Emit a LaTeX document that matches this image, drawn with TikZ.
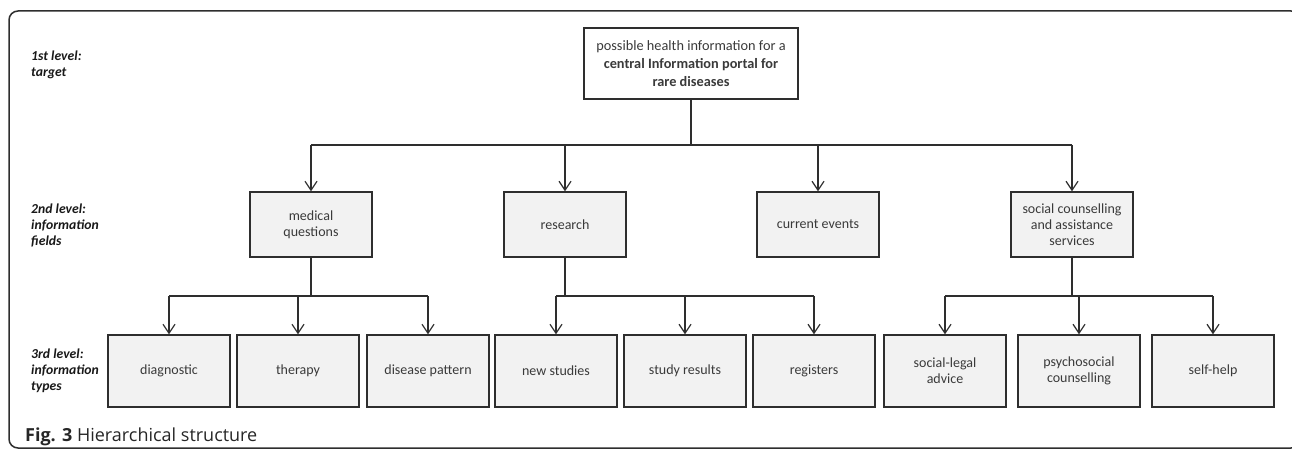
\documentclass[tikz,border=0pt]{standalone}
\usepackage{fontspec}
\setmainfont{Carlito}
\newfontfamily\capfont{Open Sans}
\usetikzlibrary{arrows.meta}
\definecolor{boxfill}{HTML}{F2F2F2}
\definecolor{boxline}{HTML}{2E2E2E}
\definecolor{txt}{HTML}{3A3A3A}
\tikzset{
  boxbase/.style={draw=boxline, line width=1.4pt, text=txt, align=center,
    font=\fontsize{14}{16}\selectfont, inner sep=2pt},
  topbox/.style={boxbase, fill=white, minimum width=214pt, minimum height=71pt,
    font=\fontsize{14.3}{18.3}\selectfont},
  fieldbox/.style={boxbase, fill=boxfill, minimum width=122pt, minimum height=65pt},
  typebox/.style={boxbase, fill=boxfill, minimum width=122pt, minimum height=72pt},
  levellabel/.style={anchor=north west, inner sep=0pt, align=left,
    font=\fontsize{13.7}{16}\selectfont\bfseries\itshape, text=black!90},
  conn/.style={draw=boxline, line width=1.5pt},
  arr/.style={conn, -{Straight Barb[length=9pt,width=12pt,line width=1.2pt]}},
}
\begin{document}
\begin{tikzpicture}[x=1pt,y=-1pt]
\useasboundingbox (0,0) rectangle (1292,449);
\begin{scope}
\clip (0,0) rectangle (1292,449);
\draw[line width=1.5pt, draw=boxline, rounded corners=9pt] (9,11) rectangle (1300,448);
\end{scope}

% level labels
\node[levellabel] (l1) at (31,51) {1st level:\\target};
\node[levellabel] (l2) at (31,204) {2nd level:\\information\\fields};
\node[levellabel] (l3) at (31,349) {3rd level:\\information\\types};

% top
\node[topbox] (top) at (691,63.5) {possible health information for a\\\textbf{central Information portal for}\\\textbf{rare diseases}};

% level 2
\node[fieldbox] (med) at (311,224.5) {medical\\questions};
\node[fieldbox] (res) at (565,224.5) {research};
\node[fieldbox] (cur) at (818,224.5) {current events};
\node[fieldbox] (soc) at (1072,224.5) {social counselling\\and assistance\\services};

% level 3
\node[typebox] (diag) at (169,371) {diagnostic};
\node[typebox] (ther) at (298,371) {therapy};
\node[typebox] (dis)  at (428,371) {disease pattern};
\node[typebox] (new)  at (556,371) {new studies};
\node[typebox] (stud) at (685,371) {study results};
\node[typebox] (reg)  at (814,371) {registers};
\node[typebox] (sla)  at (945,371) {social-legal\\advice};
\node[typebox] (psy)  at (1079,371) {psychosocial\\counselling};
\node[typebox] (self) at (1213,371) {self-help};

% bus coordinates
\coordinate (bus1) at (0,145);
\coordinate (bus2) at (0,296);

% level 1 -> 2
\draw[conn] (top.south) -- (top.south |- bus1);
\draw[conn] (med.north |- bus1) -- (soc.north |- bus1);
\foreach \n in {med,res,cur,soc} \draw[arr] (\n.north |- bus1) -- (\n.north);

% level 2 -> 3
\draw[conn] (med.south) -- (med.south |- bus2);
\draw[conn] (diag.north |- bus2) -- (dis.north |- bus2);
\foreach \n in {diag,ther,dis} \draw[arr] (\n.north |- bus2) -- (\n.north);

\draw[conn] (res.south) -- (res.south |- bus2);
\draw[conn] (new.north |- bus2) -- (reg.north |- bus2);
\foreach \n in {new,stud,reg} \draw[arr] (\n.north |- bus2) -- (\n.north);

\draw[conn] (soc.south) -- (soc.south |- bus2);
\draw[conn] (sla.north |- bus2) -- (self.north |- bus2);
\foreach \n in {sla,psy,self} \draw[arr] (\n.north |- bus2) -- (\n.north);

% caption
\node[anchor=base west, inner sep=0pt, font=\capfont\fontsize{18}{22}\selectfont, text=black!85] (cap) at (25,441) {\textbf{Fig. 3} Hierarchical structure};
\end{tikzpicture}
\end{document}
